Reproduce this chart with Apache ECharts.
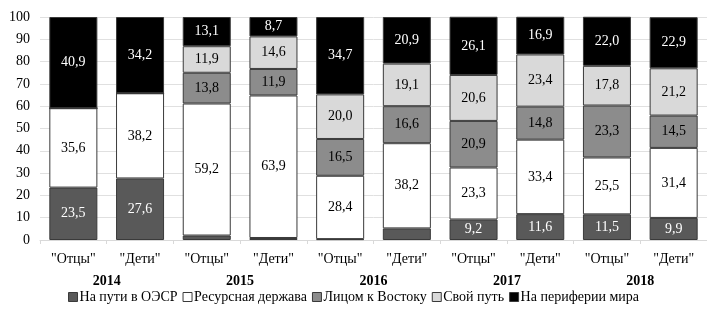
<!DOCTYPE html>
<html>
<head>
<meta charset="utf-8">
<script src="https://cdn.jsdelivr.net/npm/echarts@6/dist/echarts.min.js"></script>
<style>
    html, body { margin: 0; padding: 0; background: #fff; }
    #chart { width: 707px; height: 312px; }
</style>
</head>
<body>
<div id="chart"></div>
<script>
var categories = ['"Отцы"', '"Дети"', '"Отцы"', '"Дети"', '"Отцы"', '"Дети"', '"Отцы"', '"Дети"', '"Отцы"', '"Дети"'];
var years = ['2014', '2015', '2016', '2017', '2018'];

var seriesNames = ['На пути в ОЭСР', 'Ресурсная держава', 'Лицом к Востоку', 'Свой путь', 'На периферии мира'];
var oecd      = [23.5, 27.6, 2.0, 0.9, 0.4, 5.2, 9.2, 11.6, 11.5, 9.9];
var resource  = [35.6, 38.2, 59.2, 63.9, 28.4, 38.2, 23.3, 33.4, 25.5, 31.4];
var east      = [0, 0, 13.8, 11.9, 16.5, 16.6, 20.9, 14.8, 23.3, 14.5];
var ownWay    = [0, 0, 11.9, 14.6, 20.0, 19.1, 20.6, 23.4, 17.8, 21.2];
var periphery = [40.9, 34.2, 13.1, 8.7, 34.7, 20.9, 26.1, 16.9, 22.0, 22.9];
var yTicks = [0, 100, 10];

var fills = ['#595959', '#ffffff', '#8c8c8c', '#d9d9d9', '#000000'];
var labelColors = ['#fff', '#000', '#000', '#000', '#fff'];
var font = '"Liberation Serif", "DejaVu Serif", serif';

var allData = [oecd, resource, east, ownWay, periphery];

var series = allData.map(function (d, i) {
    return {
        name: seriesNames[i],
        type: 'bar',
        stack: 'total',
        barWidth: '72%',
        data: d,
        itemStyle: {color: fills[i], borderColor: '#3a3a3a', borderWidth: 1},
        label: {
            show: true,
            color: labelColors[i],
            fontFamily: font,
            fontSize: 14,
            formatter: function (p) {
                if (p.value < 6) return '';
                return p.value.toFixed(1).replace('.', ',');
            }
        }
    };
});

var chart = echarts.init(document.getElementById('chart'));
chart.setOption({
    animation: false,
    textStyle: {fontFamily: font},
    grid: {left: 40, right: 0, top: 17, bottom: 72},
    legend: {
        bottom: 3,
        left: 'center',
        icon: 'rect',
        itemWidth: 9,
        itemHeight: 9,
        itemGap: 5,
        textStyle: {fontFamily: font, fontSize: 14, color: '#000', padding: [0, 0, 0, -3]},
        itemStyle: {borderColor: '#3a3a3a', borderWidth: 1},
        data: seriesNames
    },
    xAxis: [{
        type: 'category',
        data: categories,
        axisLine: {lineStyle: {color: '#d9d9d9'}},
        axisTick: {show: true, length: 4, lineStyle: {color: '#d9d9d9'}},
        axisLabel: {color: '#000', fontFamily: font, fontSize: 14, margin: 12, interval: 0}
    }, {
        type: 'category',
        data: years,
        position: 'bottom',
        offset: 22,
        axisLine: {show: false},
        axisTick: {show: false},
        axisLabel: {color: '#000', fontFamily: font, fontSize: 14, fontWeight: 'bold', margin: 12}
    }],
    yAxis: {
        type: 'value',
        min: yTicks[0],
        max: yTicks[1],
        interval: yTicks[2],
        axisLine: {show: false},
        axisTick: {show: false},
        splitLine: {lineStyle: {color: '#e0e0e0'}},
        axisLabel: {color: '#000', fontFamily: font, fontSize: 14, margin: 10}
    },
    series: series
});
</script>
</body>
</html>
